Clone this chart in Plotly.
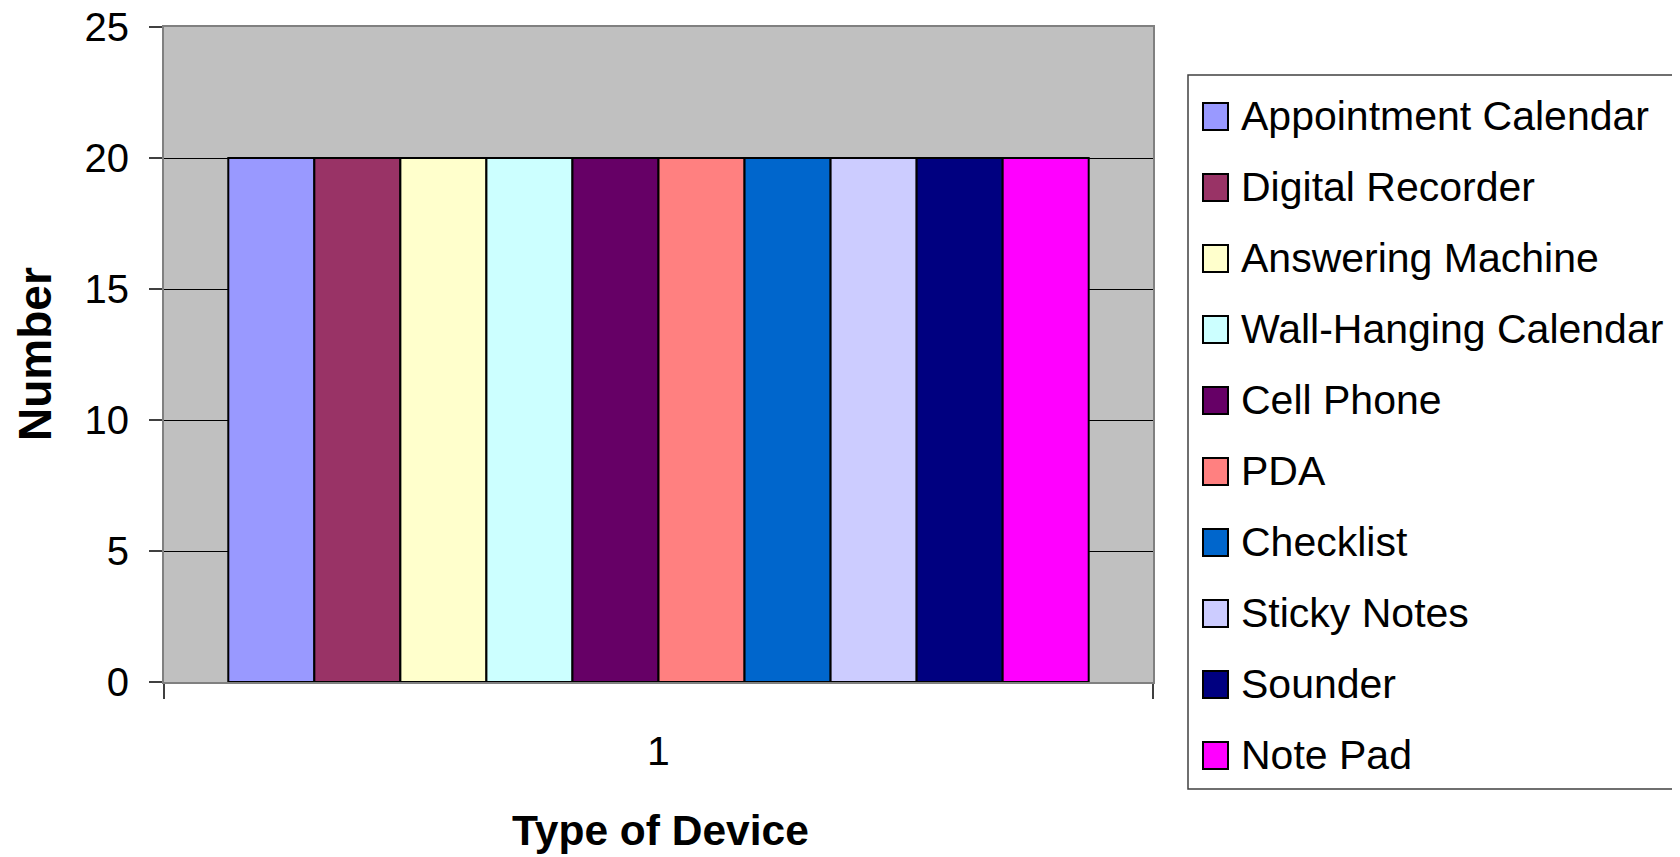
import plotly.graph_objects as go

categories = ["1"]
devices = ["Appointment Calendar", "Digital Recorder", "Answering Machine",
           "Wall-Hanging Calendar", "Cell Phone", "PDA", "Checklist",
           "Sticky Notes", "Sounder", "Note Pad"]
counts = [20, 20, 20, 20, 20, 20, 20, 20, 20, 20]
colors = ["#9999FF", "#993366", "#FFFFCC", "#CCFFFF", "#660066",
          "#FF8080", "#0066CC", "#CCCCFF", "#000080", "#FF00FF"]
y_ticks = [0, 5, 10, 15, 20, 25]

W, H = 1680, 857
OFF = 8  # browser body margin
L, R, T, B = 164 - OFF, 1153 - OFF, 27 - OFF, 682 - OFF
PW, PH = R - L, B - T
FONT = "Liberation Sans, Arial, sans-serif"


def px(x):
    return (x - OFF - L) / PW


def py(y):
    return (B - (y - OFF)) / PH


fig = go.Figure()
for name, val, col in zip(devices, counts, colors):
    fig.add_trace(go.Bar(
        x=categories, y=[val], name=name,
        marker=dict(color=col, line=dict(color="#000000", width=2)),
        showlegend=False,
    ))

shapes = []
annotations = []

# Manual legend (large swatches like the original)
shapes.append(dict(type="rect", xref="paper", yref="paper",
                   x0=px(1188), x1=px(1676), y0=py(75), y1=py(789),
                   line=dict(color="#404040", width=1.5), fillcolor="white",
                   layer="above"))
for i, (name, col) in enumerate(zip(devices, colors)):
    cy = 116 + 71 * i
    shapes.append(dict(type="rect", xref="paper", yref="paper",
                       x0=px(1203), x1=px(1228), y0=py(cy - 13), y1=py(cy + 14),
                       line=dict(color="#000000", width=2), fillcolor=col,
                       layer="above"))
    annotations.append(dict(text=name, xref="paper", yref="paper",
                            x=px(1239), y=py(cy), xanchor="left", yanchor="middle",
                            showarrow=False,
                            font=dict(family=FONT, size=41, color="#000000")))

# Axis titles
annotations.append(dict(text="<b>Type of Device</b>", xref="paper", yref="paper",
                        x=px(660), y=py(830), xanchor="center", yanchor="middle",
                        showarrow=False,
                        font=dict(family=FONT, size=42.5, color="#000000")))
annotations.append(dict(text="<b>Number</b>", xref="paper", yref="paper",
                        x=px(35), y=py(354), xanchor="center", yanchor="middle",
                        textangle=-90, showarrow=False,
                        font=dict(family=FONT, size=46, color="#000000")))

fig.update_layout(
    width=W, height=H,
    margin=dict(l=L, r=W - R, t=T, b=H - B, autoexpand=False),
    paper_bgcolor="white",
    plot_bgcolor="#C0C0C0",
    barmode="group",
    bargap=0.13,
    bargroupgap=0,
    showlegend=False,
    font=dict(family=FONT, size=40, color="#000000"),
    shapes=shapes,
    annotations=annotations,
)
fig.update_xaxes(
    type="category",
    showgrid=False,
    showline=True, linecolor="#808080", linewidth=2, mirror=True,
    ticks="outside", tickson="boundaries", ticklen=15, tickcolor="#404040",
    tickwidth=1.5,
    tickfont=dict(family=FONT, size=41, color="#000000"),
    ticklabelstandoff=32,
    ticklabeloverflow="allow",
    automargin=False,
)
fig.update_yaxes(
    range=[0, 25],
    tickvals=y_ticks,
    showgrid=True, gridcolor="#000000", gridwidth=1,
    zeroline=False,
    showline=True, linecolor="#808080", linewidth=2, mirror=True,
    ticks="outside", ticklen=13, tickcolor="#404040", tickwidth=1.5,
    tickfont=dict(family=FONT, size=40, color="#000000"),
    ticklabelstandoff=12,
    ticklabeloverflow="allow",
    automargin=False,
)

fig.write_html("out.html")
